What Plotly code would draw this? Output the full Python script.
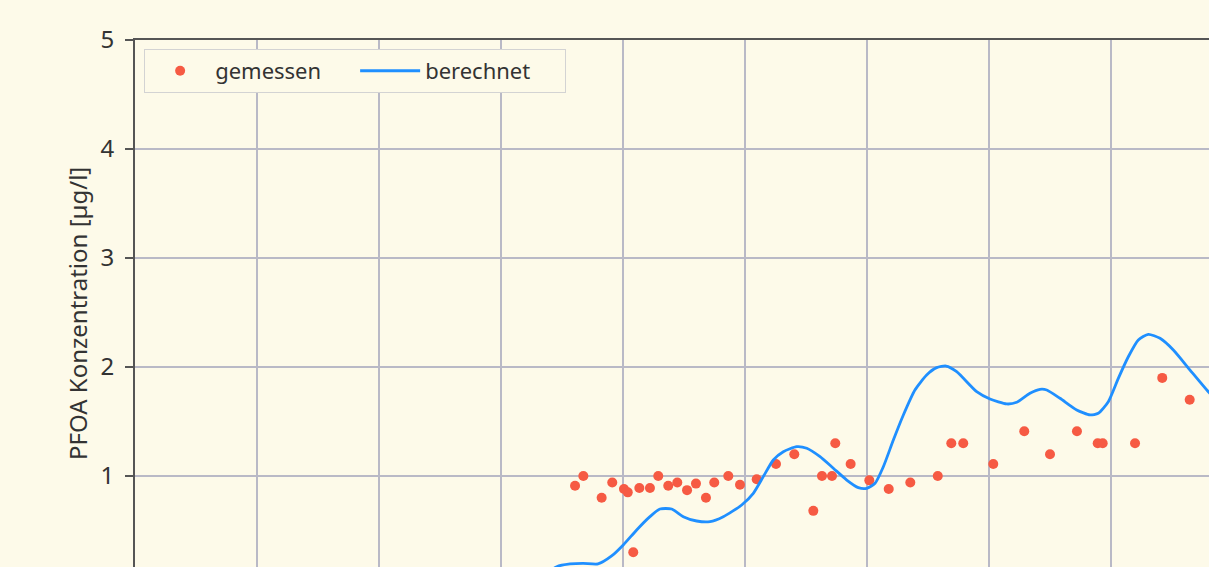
import plotly.graph_objects as go

# measured values (x in grid units, y in µg/l)
gem_x = [3.607, 3.675, 3.825, 3.912, 4.008, 4.039, 4.084, 4.134, 4.221, 4.289,
         4.371, 4.445, 4.525, 4.598, 4.680, 4.748, 4.863, 4.959, 5.096, 5.254,
         5.404, 5.560, 5.631, 5.713, 5.740, 5.866, 6.019, 6.178, 6.355, 6.580,
         6.691, 6.789, 7.035, 7.289, 7.500, 7.721, 7.891, 7.932, 8.197, 8.420,
         8.645]
gem_y = [0.91, 1.00, 0.80, 0.94, 0.88, 0.85, 0.30, 0.89, 0.89, 1.00,
         0.91, 0.94, 0.87, 0.93, 0.80, 0.94, 1.00, 0.92, 0.97, 1.11,
         1.20, 0.68, 1.00, 1.00, 1.30, 1.11, 0.96, 0.88, 0.94, 1.00,
         1.30, 1.30, 1.11, 1.41, 1.20, 1.41, 1.30, 1.30, 1.30, 1.90,
         1.70]

ber_x = [3.361, 3.457, 3.566, 3.672, 3.795, 3.907, 4.002, 4.112, 4.221, 4.303,
         4.399, 4.494, 4.604, 4.713, 4.822, 4.973, 5.068, 5.150, 5.232, 5.314,
         5.424, 5.506, 5.615, 5.724, 5.834, 5.929, 5.998, 6.066, 6.134, 6.216,
         6.298, 6.393, 6.489, 6.571, 6.648, 6.735, 6.899, 7.008, 7.145, 7.227,
         7.336, 7.418, 7.473, 7.582, 7.719, 7.828, 7.896, 7.978, 8.060, 8.142,
         8.224, 8.306, 8.402, 8.511, 8.648, 8.798, 8.934]
ber_y = [0.092, 0.168, 0.193, 0.199, 0.193, 0.266, 0.367, 0.505, 0.627, 0.697,
         0.697, 0.627, 0.587, 0.581, 0.627, 0.734, 0.841, 0.994, 1.147, 1.223,
         1.269, 1.254, 1.177, 1.071, 0.963, 0.893, 0.887, 0.933, 1.085, 1.330,
         1.560, 1.789, 1.927, 1.994, 2.009, 1.957, 1.773, 1.706, 1.661, 1.676,
         1.759, 1.795, 1.789, 1.713, 1.606, 1.560, 1.575, 1.682, 1.896, 2.094,
         2.248, 2.300, 2.263, 2.156, 1.972, 1.773, 1.610]

y_ticks = [1, 2, 3, 4, 5]
y_label = "PFOA Konzentration [µg/l]"

BG = "#fdfae9"
GRID = "#b9b9c6"
AXIS = "#555555"
FONT = "Noto Sans"

fig = go.Figure()
fig.add_trace(go.Scatter(x=gem_x, y=gem_y, mode="markers", name="gemessen",
                         marker=dict(color="#f65a43", size=10)))
fig.add_trace(go.Scatter(x=ber_x, y=ber_y, mode="lines", name="berechnet",
                         line=dict(color="#1f8fff", width=2.8, shape="spline", smoothing=0.6)))

fig.update_layout(
    width=1209, height=567,
    margin=dict(l=135, r=0, t=40, b=0),
    paper_bgcolor=BG, plot_bgcolor=BG,
    font=dict(family=FONT, size=22, color="#333333"),
    showlegend=True,
    legend=dict(orientation="h", x=0.0085, y=0.983, xanchor="left", yanchor="top",
                bgcolor=BG, bordercolor="#d3d3d3", borderwidth=1,
                font=dict(family=FONT, size=22, color="#333333"),
                itemwidth=60, entrywidth=135),
    xaxis=dict(range=[0, 1074 / 122], dtick=1, tick0=0, showgrid=True, gridcolor=GRID,
               gridwidth=1.5, zeroline=False, showticklabels=False, ticks="",
               showline=True, linecolor=AXIS, linewidth=2, side="top", mirror=False),
    yaxis=dict(range=[0.165, 5], tickvals=y_ticks, showgrid=True, gridcolor=GRID,
               gridwidth=1.5, zeroline=False, showline=True, linecolor=AXIS, linewidth=2,
               ticks="outside", ticklen=8, tickcolor=AXIS, tickwidth=1.5,
               ticklabelstandoff=6, tickfont=dict(family=FONT, size=24, color="#333333")),
    annotations=[dict(text=y_label, xref="paper", yref="paper", x=-58 / 1074, y=0.48,
                      xanchor="center", yanchor="middle", textangle=-90, showarrow=False,
                      font=dict(family=FONT, size=24, color="#333333"))],
)

fig.write_html("out.html", config={"displayModeBar": False},
               post_script="document.body.style.margin='0';document.body.style.overflow='hidden';")
